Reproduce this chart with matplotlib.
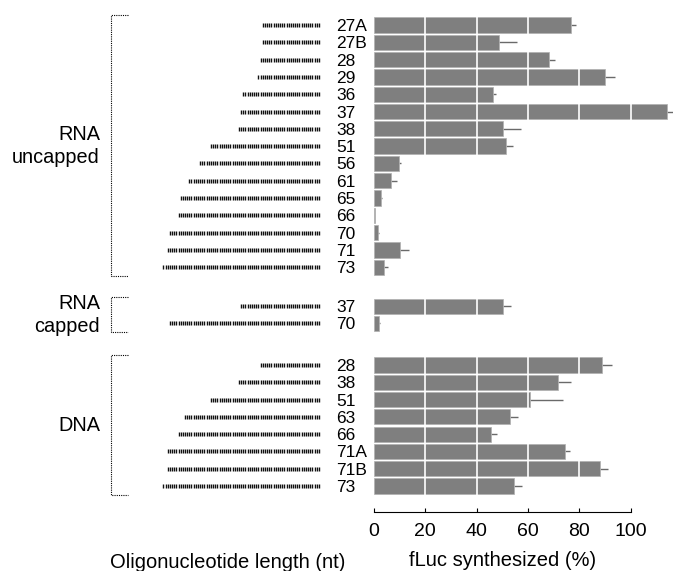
import matplotlib
matplotlib.use("Agg")
import matplotlib.pyplot as plt
import numpy as np

plt.rcParams["font.family"] = ["Liberation Sans", "DejaVu Sans"]

# ---------------------------------------------------------------- data
uncapped_labels = ["27A", "27B", "28", "29", "36", "37", "38", "51",
                   "56", "61", "65", "66", "70", "71", "73"]
uncapped_len = [27, 27, 28, 29, 36, 37, 38, 51, 56, 61, 65, 66, 70, 71, 73]
uncapped_fluc = [76.6, 48.7, 68.2, 89.9, 46.2, 114.3, 50.4, 51.3,
                 9.6, 6.7, 2.6, 0.4, 1.6, 10.1, 4.0]
uncapped_err = [2.0, 6.9, 2.4, 3.9, 1.2, 2.3, 6.7, 3.0,
                0.8, 2.4, 0.6, 0.0, 0.3, 3.4, 1.5]

capped_labels = ["37", "70"]
capped_len = [37, 70]
capped_fluc = [50.4, 1.9]
capped_err = [3.1, 0.4]

dna_labels = ["28", "38", "51", "63", "66", "71A", "71B", "73"]
dna_len = [28, 38, 51, 63, 66, 71, 71, 73]
dna_fluc = [88.9, 71.7, 60.9, 52.9, 45.7, 74.5, 88.0, 54.5]
dna_err = [3.8, 4.9, 12.7, 3.1, 2.1, 1.7, 3.2, 3.2]

group_names = ["RNA\nuncapped", "RNA\ncapped", "DNA"]
group_starts = [0.0, 16.25, 19.65]      # row offset of each group's first row

groups = [
    (uncapped_labels, uncapped_len, uncapped_fluc, uncapped_err),
    (capped_labels, capped_len, capped_fluc, capped_err),
    (dna_labels, dna_len, dna_fluc, dna_err),
]

# ---------------------------------------------------------------- layout
W, H = 673, 571
fig = plt.figure(figsize=(W / 100, H / 100), dpi=100)

ax_bottom = (H - 512) / H
row0_px, pitch_px = 25, 17.3
ylim = ((512 - row0_px) / pitch_px, -row0_px / pitch_px)

x0_px, px_per_pct = 374, 2.567
ax = fig.add_axes([x0_px / W, ax_bottom, (W - x0_px) / W, 1 - ax_bottom])
ax.set_xlim(0, (W - x0_px) / px_per_pct)
ax.set_ylim(*ylim)

# left panel: x in nucleotides, 3' ends aligned at x = 0
px_per_nt = 2.16
end_px = 320
axl = fig.add_axes([0, ax_bottom, end_px / W, 1 - ax_bottom], sharey=ax)
axl.set_xlim(-end_px / px_per_nt, 0)
axl.axis("off")

BAR = "#7f7f7f"
all_pos, all_labels = [], []
for (labels, lens, fluc, err), start, name in zip(groups, group_starts, group_names):
    pos = start + np.arange(len(labels))
    all_pos.extend(pos)
    all_labels.extend(labels)

    ax.barh(pos, fluc, height=0.88, color=BAR, edgecolor="#b0b0b0",
            linewidth=0.5, zorder=2)
    ax.errorbar(fluc, pos, xerr=[np.zeros(len(err)), err], fmt="none",
                ecolor="#6a6a6a", elinewidth=1.0, capsize=0, zorder=1.9)

    # oligo drawn as one tick per nucleotide
    for y, n in zip(pos, lens):
        xs = -(np.arange(n) + 0.5)
        axl.plot(xs, np.full(n, y), ls="none", marker="|", ms=3.4,
                 mew=1.0, color="#111111")

    # dotted bracket + group name
    top, bot = pos[0] - 0.55, pos[-1] + 0.5
    bx, arm = -96.8, -88.9
    axl.plot([arm, bx, bx, arm], [top, top, bot, bot], color="black",
             lw=0.8, ls=(0, (1, 1)))
    axl.text(-101.9, (pos[0] + pos[-1]) / 2, name, ha="right", va="center",
             fontsize=14.3, linespacing=1.25)

# white grid lines cutting the bars
for gx in [20, 40, 60, 80, 100]:
    ax.axvline(gx, ymin=0.02, ymax=1, color="white", lw=1.2, zorder=3)

# length labels as y tick labels
ax.set_yticks(all_pos)
ax.set_yticklabels(all_labels, ha="left", fontsize=12.5)
ax.tick_params(axis="y", length=0, pad=(x0_px - 336) * 72 / 100)

ax.set_xticks([0, 20, 40, 60, 80, 100])
ax.tick_params(axis="x", direction="in", length=3, width=0.8,
               labelsize=14, pad=8)
for side in ["top", "right", "left"]:
    ax.spines[side].set_visible(False)
ax.spines["bottom"].set_bounds(0, 100)
ax.spines["bottom"].set_linewidth(0.8)

fig.text(502.5 / W, 1 - 561 / H, "fLuc synthesized (%)", ha="center",
         va="center", fontsize=14.5)
fig.text(228 / W, 1 - 562 / H, "Oligonucleotide length (nt)", ha="center",
         va="center", fontsize=14.5)

fig.savefig("out.png", dpi=100)
